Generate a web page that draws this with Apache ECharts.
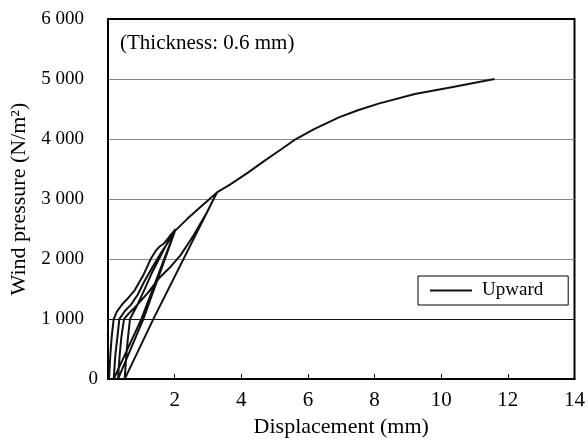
<!DOCTYPE html>
<html>
<head>
<meta charset="utf-8">
<script src="https://cdn.jsdelivr.net/npm/echarts@6/dist/echarts.min.js"></script>
<style>html,body{margin:0;padding:0;background:#fff}#c{width:588px;height:443px}</style>
</head>
<body>
<div id="c"></div>
<script>
// [displacement (mm), wind pressure (N/m2)]
var load1 = [[0.03,0],[0.07,400],[0.11,700],[0.17,1000],[0.27,1130],[0.45,1260],[0.62,1360],[0.8,1480],[1.05,1720],[1.29,2010],[1.45,2150],[1.55,2210],[1.68,2260],[1.85,2380],[2.03,2500]];
var unload1 = [[2.03,2500],[1.0,1000],[0.17,0]];
var load2 = [[0.17,0],[0.22,400],[0.28,690],[0.34,1000],[0.5,1130],[0.69,1240],[0.89,1405],[1.09,1625],[1.34,1873],[1.58,2094],[1.78,2259],[2.03,2500]];
var unload2 = [[2.03,2500],[1.06,1000],[0.3,0]];
var load3 = [[0.3,0],[0.35,400],[0.4,690],[0.48,1000],[0.6,1080],[0.79,1185],[1.19,1432],[1.53,1680],[1.88,1873],[2.18,2066],[2.57,2397],[2.97,2782],[3.27,3110]];
var unload3 = [[3.27,3110],[1.36,1000],[0.5,0]];
var load4 = [[0.5,0],[0.55,400],[0.6,700],[0.66,1000],[0.85,1200],[1.1,1500],[1.3,1750],[1.53,2000],[1.92,2420],[2.38,2670],[2.8,2880],[3.27,3110],[3.66,3240],[4.2,3440],[4.65,3620],[5.2,3830],[5.64,4000],[6.2,4170],[6.93,4360],[7.5,4480],[8.12,4590],[9.21,4750],[10.39,4870],[11.6,5000]];
var xTicks = [0,2,4,6,8,10,12,14];
var yTicks = [0,1000,2000,3000,4000,5000,6000];
var seriesName = 'Upward';
var noteText = '(Thickness: 0.6 mm)';

var path = [].concat(load1, unload1, load2, unload2, load3, unload3, load4);
var FONT = 'Liberation Serif';
var chart = echarts.init(document.getElementById('c'));
function fmt(v){
  if (v === 0) return '{z|0}';
  return '{n|' + String(v).replace(/\B(?=(\d{3})+(?!\d))/g, ' ') + '}';
}
chart.setOption({
  animation: false,
  grid: {left: 107, right: 12, top: 19, bottom: 61.5, show: true, borderColor: '#000', borderWidth: 2, backgroundColor: 'transparent'},
  legend: {
    data: [{name: seriesName, icon: 'rect'}], left: 418, top: 276, orient: 'horizontal',
    borderColor: '#000', borderWidth: 1, borderRadius: 0,
    padding: [5, 25, 5, 12], itemWidth: 42, itemHeight: 2, itemGap: 10,
    textStyle: {fontFamily: FONT, fontSize: 19, color: '#000', padding: [0, 0, 0, 5]},
    backgroundColor: '#fff'
  },
  graphic: [{type: 'text', left: 120, top: 33, style: {text: noteText, font: '21px "Liberation Serif"', fill: '#000'}}],
  xAxis: {
    type: 'value', min: xTicks[0], max: xTicks[xTicks.length-1], interval: 2,
    name: 'Displacement (mm)', nameLocation: 'middle', nameGap: 35,
    nameTextStyle: {fontFamily: FONT, fontSize: 22, color: '#000'},
    axisLine: {show: true, lineStyle: {color: '#000', width: 2}},
    axisTick: {show: true, inside: true, length: 5, lineStyle: {color: '#000'}},
    axisLabel: {fontFamily: FONT, fontSize: 21, color: '#000', margin: 11,
      formatter: function(v){ return v === 0 ? '' : String(v); }},
    splitLine: {show: false}
  },
  yAxis: {
    type: 'value', min: yTicks[0], max: yTicks[yTicks.length-1], interval: 1000,
    name: 'Wind pressure (N/m²)', nameLocation: 'middle', nameGap: 78,
    nameTextStyle: {fontFamily: FONT, fontSize: 22, color: '#000'},
    axisLine: {show: true, lineStyle: {color: '#000', width: 2}},
    axisTick: {show: false},
    axisLabel: {fontFamily: FONT, fontSize: 19, color: '#000', margin: 10, formatter: fmt,
      rich: {
        n: {fontFamily: FONT, fontSize: 19, color: '#000', padding: [0, 14, 0, 0]},
        z: {fontFamily: FONT, fontSize: 19, color: '#000', padding: [0, 0, 0, 0]}
      }},
    splitLine: {show: true, lineStyle: {color: ['#000','#111','#888','#888','#888','#888','#000'], width: 1}}
  },
  series: [{
    name: seriesName, type: 'line', data: path, symbol: 'none', showSymbol: false,
    smooth: false, lineStyle: {color: '#111', width: 2}, itemStyle: {color: '#111'}
  }]
});
</script>
</body>
</html>
